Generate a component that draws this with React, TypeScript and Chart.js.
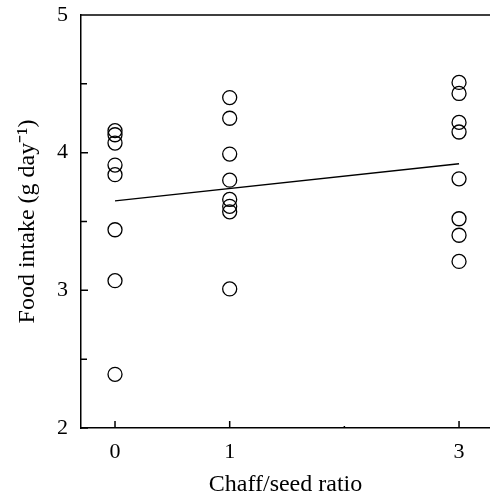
import React, { useEffect, useRef } from "react";
import { Chart, registerables } from "chart.js";

Chart.register(...registerables);

// Chaff/seed ratio categories (x positions)
const chaffRatios = [0, 1, 3];
// Food intake values per ratio (g day^-1)
const intakeRatio0 = [4.16, 4.13, 4.07, 3.91, 3.84, 3.44, 3.07, 2.39];
const intakeRatio1 = [4.4, 4.25, 3.99, 3.8, 3.66, 3.61, 3.57, 3.01];
const intakeRatio3 = [4.51, 4.43, 4.22, 4.15, 3.81, 3.52, 3.4, 3.21];
// Fitted regression line (x, y)
const fitX = [0, 3];
const fitY = [3.65, 3.92];
// Tick labels / tick marks
const xTicks = [0, 1, 3];
const xMinorTicks = [2];
const yTicks = [2, 3, 4, 5];
const yMinorTicks = [2.5, 3.5, 4.5];

const FONT = "'Liberation Serif', 'Times New Roman', serif";

const innerTicks = {
  id: "innerTicks",
  afterDraw(chart: any) {
    const { ctx, chartArea, scales } = chart;
    const xs = scales.x;
    const ys = scales.y;
    ctx.save();
    ctx.strokeStyle = "#000";
    ctx.lineWidth = 1.5;
    ctx.beginPath();
    ctx.moveTo(chartArea.left, chartArea.top);
    ctx.lineTo(chartArea.right, chartArea.top);
    for (const v of yTicks) {
      const p = ys.getPixelForValue(v);
      ctx.moveTo(chartArea.left, p);
      ctx.lineTo(chartArea.left + 7, p);
    }
    for (const v of yMinorTicks) {
      const p = ys.getPixelForValue(v);
      ctx.moveTo(chartArea.left, p);
      ctx.lineTo(chartArea.left + 6, p);
    }
    for (const v of xTicks) {
      const p = xs.getPixelForValue(v);
      ctx.moveTo(p, chartArea.bottom);
      ctx.lineTo(p, chartArea.bottom - 7);
    }
    for (const v of xMinorTicks) {
      const p = xs.getPixelForValue(v);
      ctx.moveTo(p, chartArea.bottom);
      ctx.lineTo(p, chartArea.bottom - 2);
    }
    ctx.stroke();
    ctx.restore();
  },
};

const zeroPadding = (s: any) => {
  s.paddingLeft = 0;
  s.paddingRight = 0;
  s.paddingTop = 0;
  s.paddingBottom = 0;
};

export default function App() {
  const canvasRef = useRef<HTMLCanvasElement | null>(null);

  useEffect(() => {
    if (!canvasRef.current) return;
    const pointsFor = (x: number, vals: number[]) => vals.map((v) => ({ x, y: v }));
    const scatterData = [
      ...pointsFor(chaffRatios[0], intakeRatio0),
      ...pointsFor(chaffRatios[1], intakeRatio1),
      ...pointsFor(chaffRatios[2], intakeRatio3),
    ];
    const lineData = fitX.map((x, i) => ({ x, y: fitY[i] }));

    const chart = new Chart(canvasRef.current, {
      type: "scatter",
      data: {
        datasets: [
          {
            type: "line",
            data: lineData,
            borderColor: "#000",
            borderWidth: 1.4,
            pointRadius: 0,
            fill: false,
          } as any,
          {
            type: "scatter",
            data: scatterData,
            pointStyle: "circle",
            pointRadius: 7,
            pointBackgroundColor: "rgba(0,0,0,0)",
            pointBorderColor: "#000",
            pointBorderWidth: 1.3,
          } as any,
        ],
      },
      plugins: [innerTicks],
      options: {
        animation: false,
        responsive: false,
        layout: { autoPadding: false, padding: { top: 15, right: 0, left: 0, bottom: 0 } },
        plugins: { legend: { display: false }, tooltip: { enabled: false } },
        scales: {
          x: {
            type: "linear",
            min: -0.2966,
            max: 3.27,
            afterFit: (s: any) => {
              s.height = 68;
              zeroPadding(s);
            },
            afterBuildTicks: (s: any) => {
              s.ticks = xTicks.map((v) => ({ value: v }));
            },
            grid: { display: false, drawTicks: false },
            border: { display: true, color: "#000", width: 1.5 },
            ticks: {
              padding: 11,
              color: "#000",
              font: { family: FONT, size: 22 },
              callback: (v: any) => String(v),
            },
            title: {
              display: true,
              text: "Chaff/seed ratio",
              color: "#000",
              font: { family: FONT, size: 24 },
              padding: { top: 0, bottom: -3 },
            },
          },
          y: {
            type: "linear",
            min: 2,
            max: 5,
            afterFit: (s: any) => {
              s.width = 81;
              zeroPadding(s);
            },
            afterBuildTicks: (s: any) => {
              s.ticks = yTicks.map((v) => ({ value: v }));
            },
            grid: { display: false, drawTicks: false },
            border: { display: true, color: "#000", width: 1.5 },
            ticks: {
              padding: 13,
              color: "#000",
              font: { family: FONT, size: 22 },
              callback: (v: any) => String(v),
            },
            title: {
              display: true,
              text: "Food intake (g day\u207B\u00B9)",
              color: "#000",
              font: { family: FONT, size: 24 },
              padding: { top: 13, bottom: 0 },
            },
          },
        },
      },
    });
    return () => chart.destroy();
  }, []);

  return (
    <div style={{ position: "absolute", left: 0, top: 0, width: 490, height: 496 }}>
      <canvas ref={canvasRef} width={490} height={496} style={{ display: "block" }} />
    </div>
  );
}
